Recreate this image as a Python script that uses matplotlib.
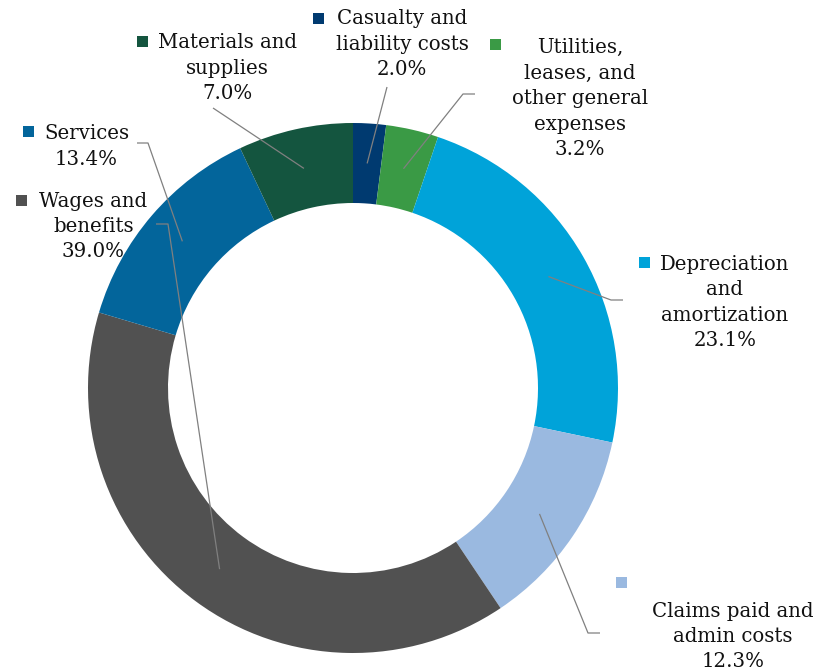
import numpy as np
import matplotlib.pyplot as plt

categories = ["Casualty and\nliability costs",
              "Utilities,\nleases, and\nother general\nexpenses",
              "Depreciation\nand\namortization",
              "Claims paid and\nadmin costs",
              "Wages and\nbenefits",
              "Services",
              "Materials and\nsupplies"]
values = [2.0, 3.2, 23.1, 12.3, 39.0, 13.4, 7.0]
colors = ['#003A70', '#3A9A45', '#00A3D9', '#9AB9E0', '#515151', '#03659B', '#14553F']

W, H = 817, 671
fig = plt.figure(figsize=(W / 100, H / 100), dpi=100)
ax = fig.add_axes([0, 0, 1, 1])

def P(x, y):
    # picture pixel coords -> data coords
    return x, H - y

cx, cy = P(353, 388)
R = 265
ring = 80

ax.pie(values, colors=colors, startangle=90, counterclock=False,
       center=(cx, cy), radius=R, frame=True,
       wedgeprops=dict(width=ring, linewidth=0))
ax.set_xlim(0, W)
ax.set_ylim(0, H)
ax.set_aspect('equal')
ax.axis('off')

# label layout: text centre x, first baseline y, marker pos, leader line path (pixels)
layout = [
    dict(tx=402, by=24, pitch=25.5, mk=(319, 18.5), path=[(387, 87)]),
    dict(tx=580, by=53, pitch=25.5, mk=(496, 44), path=[(463, 94), (475, 94)]),
    dict(tx=725, by=270, pitch=25.3, mk=(645, 262.5), path=[(611, 300), (623, 300)]),
    dict(tx=733, by=617, pitch=25, mk=(621.5, 582), path=[(588, 633), (600, 633)]),
    dict(tx=93.5, by=207, pitch=25, mk=(21.5, 200.5), path=[(168, 224), (156, 224)]),
    dict(tx=86.5, by=139, pitch=26, mk=(29, 131.5), path=[(148, 143), (137, 143)]),
    dict(tx=227.5, by=48, pitch=25.5, mk=(142.5, 41), path=[(213, 108)]),
]

cum = np.cumsum([0] + values[:-1])
for i, (cat, v) in enumerate(zip(categories, values)):
    lay = layout[i]
    mid = np.deg2rad(90 - 360 * (cum[i] + v / 2) / 100)
    rm = R - ring / 2
    ax_, ay_ = cx + rm * np.cos(mid), cy + rm * np.sin(mid)
    xs = [ax_] + [P(*p)[0] for p in lay['path']]
    ys = [ay_] + [P(*p)[1] for p in lay['path']]
    ax.plot(xs, ys, color='#808080', lw=0.9, solid_capstyle='butt')

    lines = cat.split('\n') + ['%.1f%%' % v]
    for j, line in enumerate(lines):
        x, y = P(lay['tx'], lay['by'] + j * lay['pitch'])
        ax.text(x, y, line, ha='center', va='baseline', fontsize=14.2,
                family='DejaVu Serif', color='#111111')
    mx, my = P(*lay['mk'])
    ax.add_patch(plt.Rectangle((mx - 5.5, my - 5.5), 11, 11, color=colors[i], lw=0))

fig.savefig('out.png', dpi=100)
